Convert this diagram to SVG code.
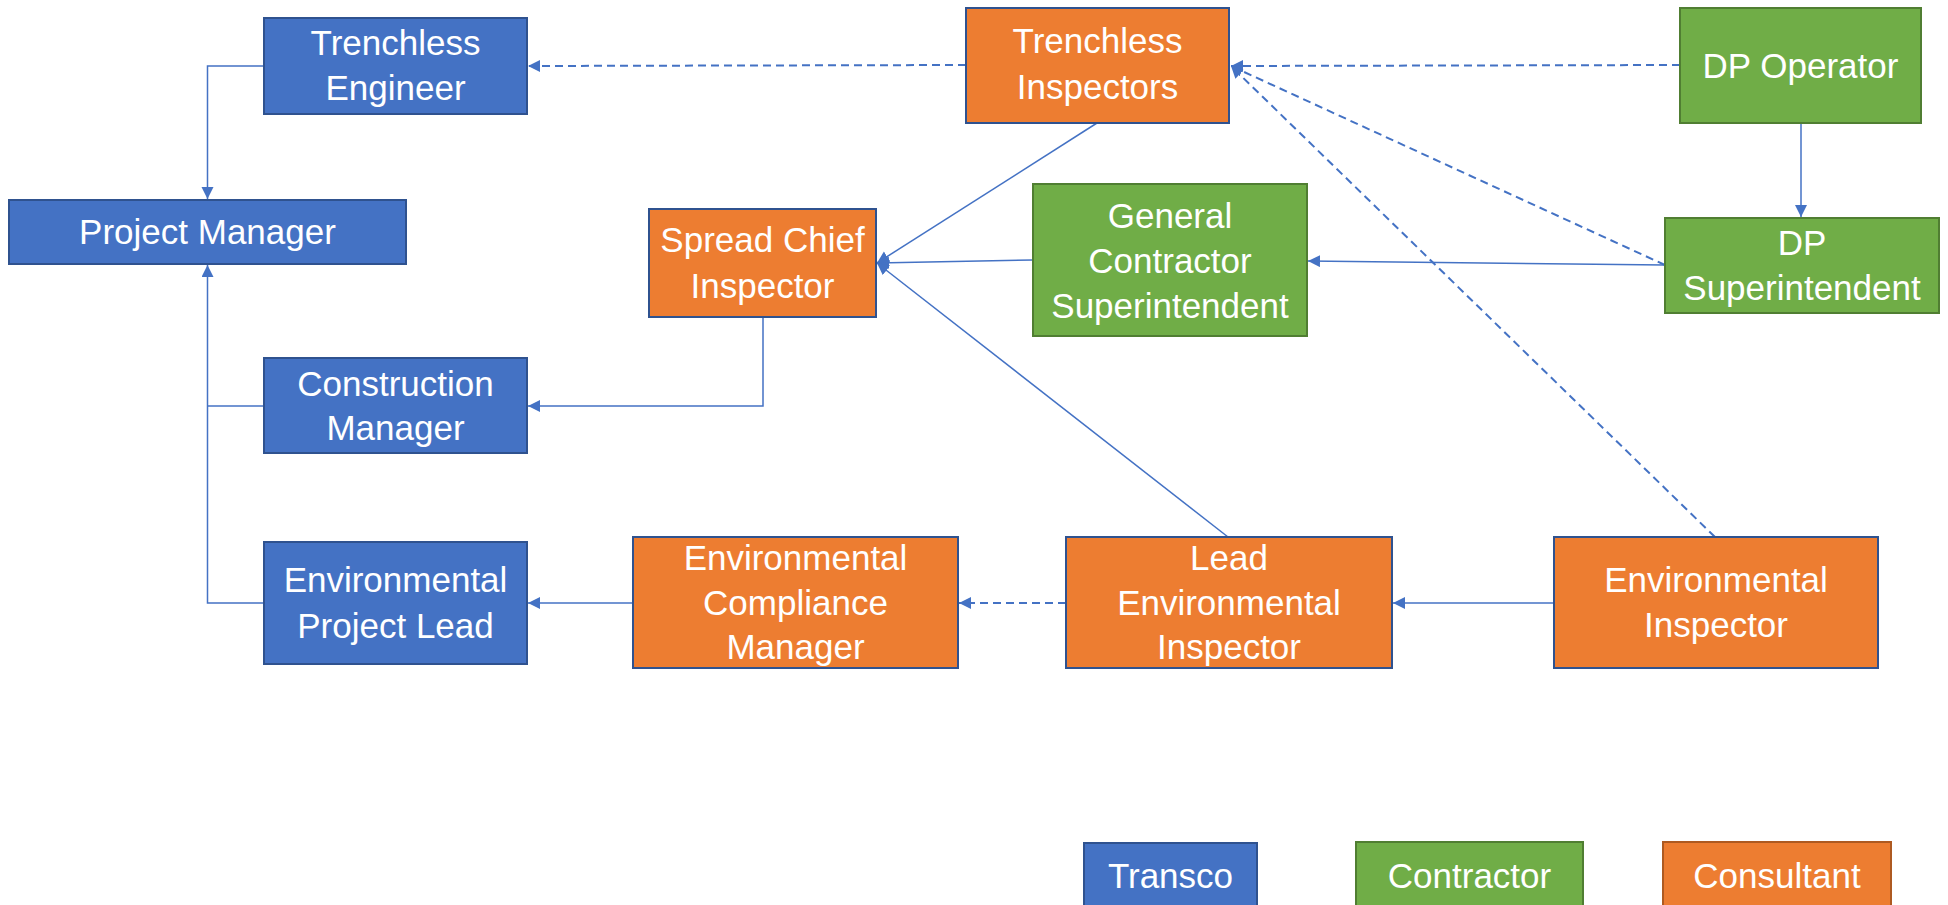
<svg xmlns="http://www.w3.org/2000/svg" width="1948" height="905" viewBox="0 0 1948 905">
<defs>
<style>
.blue{fill:#4472C4;stroke:#2F528F;stroke-width:2}
.green{fill:#70AD47;stroke:#507E32;stroke-width:2}
.orange{fill:#ED7D31;stroke:#2F528F;stroke-width:2}
.orange2{fill:#ED7D31;stroke:#AE5A21;stroke-width:2}
text{font-family:"Liberation Sans",Arial,sans-serif;font-size:35px;fill:#FFFFFF;text-anchor:middle}
.c{fill:none;stroke:#4472C4;stroke-width:1.5}
.d{fill:none;stroke:#4472C4;stroke-width:2;stroke-dasharray:8 5}
</style>
<marker id="arr" markerUnits="userSpaceOnUse" markerWidth="13" markerHeight="13" refX="12" refY="6" orient="auto">
<path d="M0,0 L12,6 L0,12 z" fill="#4472C4"/>
</marker>
</defs>
<rect width="1948" height="905" fill="#FFFFFF"/>
<g id="connectors">
<polyline class="c" points="264,66 207.5,66 207.5,199" marker-end="url(#arr)"/>
<polyline class="c" points="264,406 207.5,406"/>
<polyline class="c" points="264,603 207.5,603 207.5,265" marker-end="url(#arr)"/>
<line class="d" x1="966" y1="65" x2="528" y2="66" marker-end="url(#arr)"/>
<line class="d" x1="1680" y1="65" x2="1231" y2="66" marker-end="url(#arr)"/>
<line class="d" x1="1665" y1="265" x2="1231" y2="66" marker-end="url(#arr)"/>
<line class="d" x1="1715" y1="537" x2="1231" y2="66" marker-end="url(#arr)"/>
<line class="c" x1="1801" y1="123" x2="1801" y2="217" marker-end="url(#arr)"/>
<line class="c" x1="1665" y1="265" x2="1308" y2="261" marker-end="url(#arr)"/>
<line class="c" x1="1033" y1="260" x2="877" y2="263" marker-end="url(#arr)"/>
<line class="c" x1="1097" y1="123" x2="877" y2="263" marker-end="url(#arr)"/>
<line class="c" x1="1228" y1="537" x2="877" y2="263" marker-end="url(#arr)"/>
<polyline class="c" points="763,317 763,406 528,406" marker-end="url(#arr)"/>
<line class="c" x1="633" y1="603" x2="528" y2="603" marker-end="url(#arr)"/>
<line class="d" x1="1066" y1="603" x2="959" y2="603" marker-end="url(#arr)"/>
<line class="c" x1="1554" y1="603" x2="1393" y2="603" marker-end="url(#arr)"/>
</g>
<g id="trenchless-engineer">
<rect class="blue" x="264" y="18" width="263" height="96"/>
<text x="395.5" y="55">Trenchless</text>
<text x="395.5" y="100">Engineer</text>
</g>
<g id="project-manager">
<rect class="blue" x="9" y="200" width="397" height="64"/>
<text x="207.5" y="244">Project Manager</text>
</g>
<g id="construction-manager">
<rect class="blue" x="264" y="358" width="263" height="95"/>
<text x="395.5" y="396">Construction</text>
<text x="395.5" y="440">Manager</text>
</g>
<g id="environmental-project-lead">
<rect class="blue" x="264" y="542" width="263" height="122"/>
<text x="395.5" y="592">Environmental</text>
<text x="395.5" y="638">Project Lead</text>
</g>
<g id="trenchless-inspectors">
<rect class="orange" x="966" y="8" width="263" height="115"/>
<text x="1097.5" y="53">Trenchless</text>
<text x="1097.5" y="99">Inspectors</text>
</g>
<g id="spread-chief-inspector">
<rect class="orange" x="649" y="209" width="227" height="108"/>
<text x="762.5" y="252">Spread Chief</text>
<text x="762.5" y="298">Inspector</text>
</g>
<g id="general-contractor-superintendent">
<rect class="green" x="1033" y="184" width="274" height="152"/>
<text x="1170" y="228">General</text>
<text x="1170" y="273">Contractor</text>
<text x="1170" y="318">Superintendent</text>
</g>
<g id="dp-operator">
<rect class="green" x="1680" y="8" width="241" height="115"/>
<text x="1800.5" y="78">DP Operator</text>
</g>
<g id="dp-superintendent">
<rect class="green" x="1665" y="218" width="274" height="95"/>
<text x="1802" y="255">DP</text>
<text x="1802" y="300">Superintendent</text>
</g>
<g id="environmental-compliance-manager">
<rect class="orange" x="633" y="537" width="325" height="131"/>
<text x="795.5" y="570">Environmental</text>
<text x="795.5" y="615">Compliance</text>
<text x="795.5" y="659">Manager</text>
</g>
<g id="lead-environmental-inspector">
<rect class="orange" x="1066" y="537" width="326" height="131"/>
<text x="1229" y="570">Lead</text>
<text x="1229" y="615">Environmental</text>
<text x="1229" y="659">Inspector</text>
</g>
<g id="environmental-inspector">
<rect class="orange" x="1554" y="537" width="324" height="131"/>
<text x="1716" y="592">Environmental</text>
<text x="1716" y="637">Inspector</text>
</g>
<g id="legend-transco">
<rect class="blue" x="1084" y="843" width="173" height="80"/>
<text x="1170.5" y="888">Transco</text>
</g>
<g id="legend-contractor">
<rect class="green" x="1356" y="842" width="227" height="80"/>
<text x="1469.5" y="888">Contractor</text>
</g>
<g id="legend-consultant">
<rect class="orange2" x="1663" y="842" width="228" height="80"/>
<text x="1777" y="888">Consultant</text>
</g>
</svg>
